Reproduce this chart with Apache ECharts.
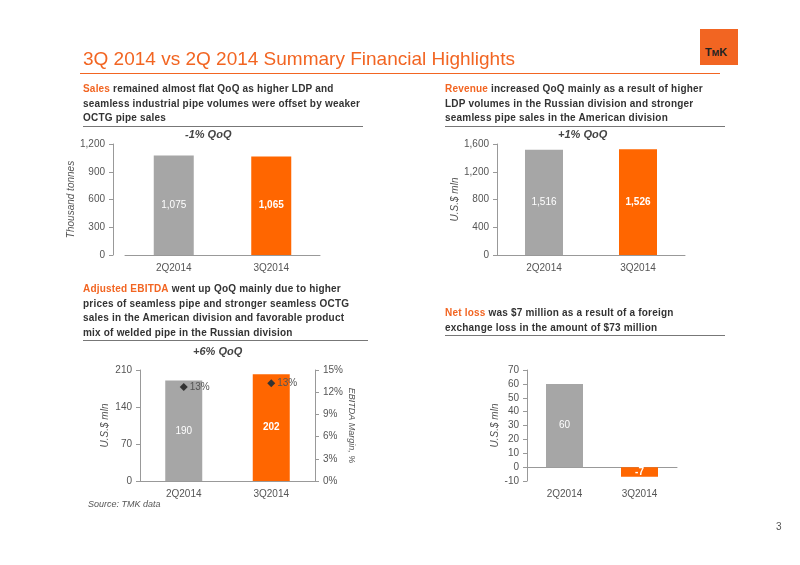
<!DOCTYPE html>
<html><head><meta charset="UTF-8">
<script src="https://cdn.jsdelivr.net/npm/echarts@6/dist/echarts.min.js"></script>
<style>
body{margin:0;background:#fff;font-family:Arial,'Liberation Sans',sans-serif;}
#c{position:absolute;left:0;top:0;width:800px;height:565px;}
.t{position:absolute;font-size:10px;font-weight:bold;color:#333;line-height:14.5px;border-bottom:1px solid #777;letter-spacing:0.2px;}
.t b{color:#f26522;}
.h{position:absolute;left:83px;top:48px;font-size:19px;color:#f26522;}
.line{position:absolute;left:80px;top:73px;width:640px;height:1px;background:#f26522;}
.logo{position:absolute;left:700px;top:29px;width:38px;height:36px;background:#f26522;color:#222;font-weight:bold;font-size:11px;}
</style></head><body>
<div id="c"></div>
<div class="h">3Q 2014 vs 2Q 2014 Summary Financial Highlights</div>
<div class="line"></div>
<div class="logo"><span style="position:absolute;left:5px;top:17px">T<span style="font-size:9px">M</span>K</span></div>
<div class="t" style="left:83px;top:82px;width:280px"><b>Sales</b> remained almost flat QoQ as higher LDP and seamless industrial pipe volumes were offset by weaker OCTG pipe sales</div>
<div class="t" style="left:445px;top:82px;width:280px"><b>Revenue</b> increased QoQ mainly as a result of higher LDP volumes in the Russian division and stronger seamless pipe sales in the American division</div>
<div class="t" style="left:83px;top:282px;width:285px"><span style="display:block;width:278px"><b>Adjusted EBITDA</b> went up QoQ mainly due to higher prices of seamless pipe and stronger seamless OCTG sales in the American division and favorable product mix of welded pipe in the Russian division</span></div>
<div class="t" style="left:445px;top:306px;width:280px"><span style="display:block;width:262px"><b>Net loss</b> was $7 million as a result of a foreign exchange loss in the amount of $73 million</span></div>
<script>
const cats = ['2Q2014', '3Q2014'];
const sales = [1075, 1065];
const revenue = [1516, 1526];
const ebitda = [190, 202];
const margin = [12.7, 13.2];
const marginLabels = ['13%', '13%'];
const netIncome = [60, -7];

const grey = '#a6a6a6', orange = '#ff6600';
const axTxt = {color:'#555', fontSize:10};
function bars(data){
  return data.map((v,i)=>({value:v, itemStyle:{color:i?orange:grey},
    label:{color:'#fff', fontWeight:i?'bold':'normal'}}));
}
function grid(l,t,w,h){return {left:l,top:t,width:w,height:h};}
function xa(gi){return {type:'category',gridIndex:gi,data:cats,axisTick:{show:false},
  axisLine:{lineStyle:{color:'#999'}},axisLabel:axTxt};}
function ya(gi,min,max,iv,name,extra){return Object.assign({type:'value',gridIndex:gi,min:min,max:max,interval:iv,
  name:name,nameLocation:'middle',nameRotate:90,nameGap:30,
  nameTextStyle:{color:'#555',fontSize:10,fontStyle:'italic'},
  splitLine:{show:false},axisLine:{show:true,lineStyle:{color:'#999'}},
  axisTick:{show:true,length:4,lineStyle:{color:'#999'}},axisLabel:Object.assign({},axTxt,{formatter:v=>v.toLocaleString('en-US')})},extra||{});}
const lbl = {show:true,position:'inside',fontSize:10};
const chart = echarts.init(document.getElementById('c'));
chart.setOption({
  animation:false,
  title:[
    {text:'-1% QoQ',left:180,top:124,textStyle:{fontSize:11,fontStyle:'italic',fontWeight:'bold',color:'#444'}},
    {text:'+1% QoQ',left:553,top:124,textStyle:{fontSize:11,fontStyle:'italic',fontWeight:'bold',color:'#444'}},
    {text:'+6% QoQ',left:188,top:341,textStyle:{fontSize:11,fontStyle:'italic',fontWeight:'bold',color:'#444'}},
    {text:'Source: TMK data',left:83,top:495,textStyle:{fontSize:9,fontStyle:'italic',fontWeight:'normal',color:'#555'}},
    {text:'3',left:771,top:517,textStyle:{fontSize:10,fontWeight:'normal',color:'#555'}}
  ],
  grid:[grid(125,144,195,111),grid(497,144,188,111),grid(140,370,175,111),grid(527,370,150,111)],
  xAxis:[xa(0),xa(1),xa(2),xa(3)],
  yAxis:[
    ya(0,0,1200,300,'Thousand tonnes',{offset:12,nameGap:30}),
    ya(1,0,1600,400,'U.S.$ mln'),
    ya(2,0,210,70,'U.S.$ mln'),
    {type:'value',gridIndex:2,position:'right',min:0,max:15,interval:3,
      name:'EBITDA Margin, %',nameLocation:'middle',nameRotate:-90,nameGap:32,
      nameTextStyle:{color:'#555',fontSize:9,fontStyle:'italic'},
      splitLine:{show:false},axisLine:{show:true,lineStyle:{color:'#999'}},
      axisTick:{show:true,length:4,lineStyle:{color:'#999'}},axisLabel:Object.assign({},axTxt,{formatter:'{value}%'})},
    ya(3,-10,70,10,'U.S.$ mln',{nameGap:22})
  ],
  series:[
    {type:'bar',xAxisIndex:0,yAxisIndex:0,barWidth:40,data:bars(sales),label:Object.assign({},lbl,{formatter:p=>p.value.toLocaleString('en-US')})},
    {type:'bar',xAxisIndex:1,yAxisIndex:1,barWidth:38,data:bars(revenue),label:Object.assign({},lbl,{formatter:p=>p.value.toLocaleString('en-US')})},
    {type:'bar',xAxisIndex:2,yAxisIndex:2,barWidth:37,data:bars(ebitda),label:lbl},
    {type:'line',xAxisIndex:2,yAxisIndex:3,data:margin,symbol:'diamond',symbolSize:8,
      lineStyle:{width:0},itemStyle:{color:'#333'},
      label:{show:true,position:'right',distance:2,fontSize:10,color:'#555',formatter:p=>marginLabels[p.dataIndex]}},
    {type:'bar',xAxisIndex:3,yAxisIndex:4,barWidth:37,data:bars(netIncome),label:lbl}
  ]
});
</script></body></html>
